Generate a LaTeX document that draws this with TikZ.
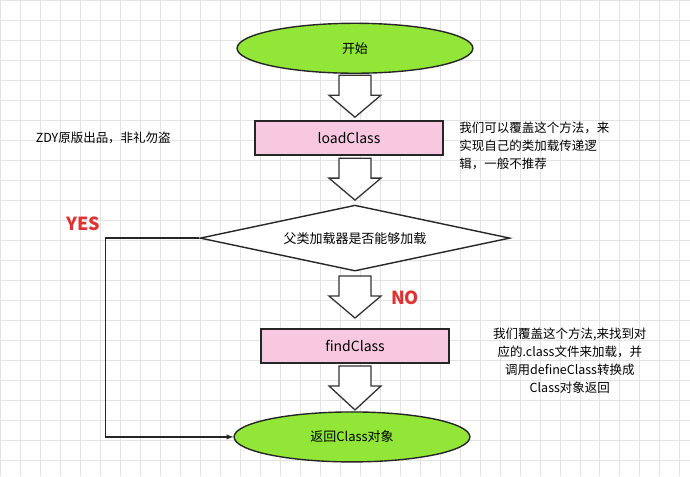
\documentclass[tikz,border=0pt]{standalone}
\usepackage{fontspec}
\setmainfont{Noto Sans CJK SC}
\usetikzlibrary{shapes.geometric}
\tikzset{
 term/.style={ellipse,draw=black!85,line width=1.4pt,fill={rgb,255:red,145;green,230;blue,55},minimum width=236pt,minimum height=50pt,font=\fontsize{13}{15}\selectfont},
 proc/.style={rectangle,draw=black!85,line width=1.4pt,fill={rgb,255:red,248;green,200;blue,225},minimum width=188pt,minimum height=34pt,font=\fontsize{14}{16}\selectfont},
 dec/.style={diamond,aspect=4.8,draw=black!85,line width=1.4pt,fill=white,minimum width=310pt,minimum height=66pt,inner sep=0pt,font=\fontsize{13}{15}\selectfont},
 note/.style={font=\fontsize{12.5}{18}\selectfont,align=left},
 lbl/.style={text={rgb,255:red,225;green,50;blue,50},font=\bfseries\fontsize{18}{20}\selectfont}
}
\newcommand{\bigarrow}[2]{% top y, bottom y at x=355
 \draw[line width=1.3pt,fill=white,draw=black!80] (339,#1) -- (371,#1) -- (371,#1+20) -- (381,#1+20) -- (355,#2) -- (329,#1+20) -- (339,#1+20) -- cycle;}
\begin{document}
\begin{tikzpicture}[x=1pt,y=-1pt]
\fill[white] (0,0) rectangle (690,476);
\draw[black!11,line width=0.6pt] (0,0) grid[step=20pt] (690,476);
\useasboundingbox (0,0) rectangle (690,476);
\node[term] (start) at (355,48) {开始};
\node[proc] (load) at (349,138) {loadClass};
\node[dec] (dec) at (355,238) {父类加载器是否能够加载};
\node[proc] (find) at (355,346) {findClass};
\node[term] (end) at (352,437) {返回Class对象};
\bigarrow{75}{117}
\bigarrow{158}{200}
\bigarrow{276}{318}
\bigarrow{366}{410}
\coordinate (c1) at (105,238);
\coordinate (c2) at (105,437);
\draw[line width=1.3pt,black!85,-latex] (dec.west) -- (c1) -- (c2) -- (end.west);
\node[lbl] (yes) at (83,224) {YES};
\node[lbl] (no) at (405,298) {NO};
\node[note,anchor=west] (sig) at (32,138) {ZDY原版出品，非礼勿盗};
\node[note,anchor=north west] (n1) at (456,118) {我们可以覆盖这个方法，来\\实现自己的类加载传递逻\\辑，一般不推荐};
\node[note,align=center,anchor=north] (n2) at (570,324) {我们覆盖这个方法,来找到对\\应的.class文件来加载，并\\调用defineClass转换成\\Class对象返回};
\end{tikzpicture}
\end{document}
